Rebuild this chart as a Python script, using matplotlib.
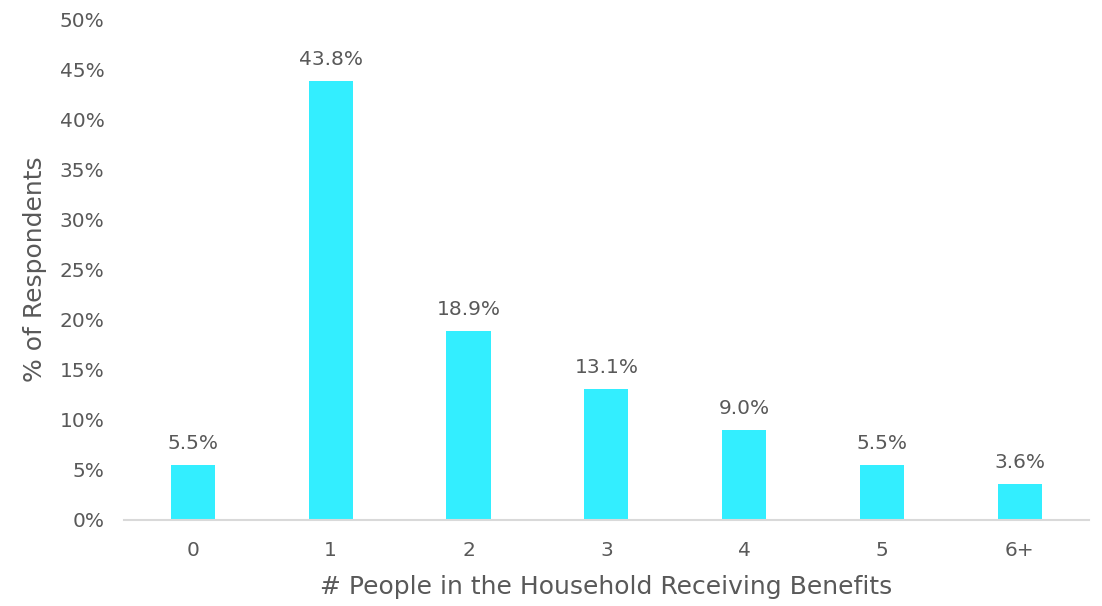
import matplotlib
matplotlib.use("Agg")
import matplotlib.pyplot as plt

# household size categories and share of respondents (%)
categories = ["0", "1", "2", "3", "4", "5", "6+"]
shares = [5.5, 43.8, 18.9, 13.1, 9.0, 5.5, 3.6]
y_ticks = [0, 5, 10, 15, 20, 25, 30, 35, 40, 45, 50]

TEXT = "#595959"
BAR = "#33EEFF"

plt.rcParams["font.family"] = ["DejaVu Sans"]

fig = plt.figure(figsize=(11.02, 6.06), dpi=100)
ax = fig.add_axes([0.1125, 0.142, 0.8755, 0.8265])

x = range(len(categories))
bars = ax.bar(x, shares, width=0.32, color=BAR)
for rect, val in zip(bars, shares):
    ax.text(rect.get_x() + rect.get_width() / 2, val + 1.2, f"{val:.1f}%",
            ha="center", va="bottom", fontsize=14.5, color=TEXT)

ax.set_xlim(-0.5, len(categories) - 0.5)
ax.set_ylim(0, 50)
ax.set_yticks(y_ticks)
ax.set_yticklabels([f"{t}%" for t in y_ticks])
ax.set_xticks(list(x))
ax.set_xticklabels(categories)
ax.tick_params(axis="both", length=0, labelsize=14.5, labelcolor=TEXT)
ax.tick_params(axis="x", pad=15)
ax.tick_params(axis="y", pad=14)

for side in ["top", "right", "left"]:
    ax.spines[side].set_visible(False)
ax.spines["bottom"].set_color("#D9D9D9")
ax.spines["bottom"].set_linewidth(1.5)

ax.set_xlabel("# People in the Household Receiving Benefits", fontsize=18,
              color=TEXT, labelpad=11)
ax.set_ylabel("% of Respondents", fontsize=18, color=TEXT, labelpad=9)

fig.savefig("out.png", dpi=100)
